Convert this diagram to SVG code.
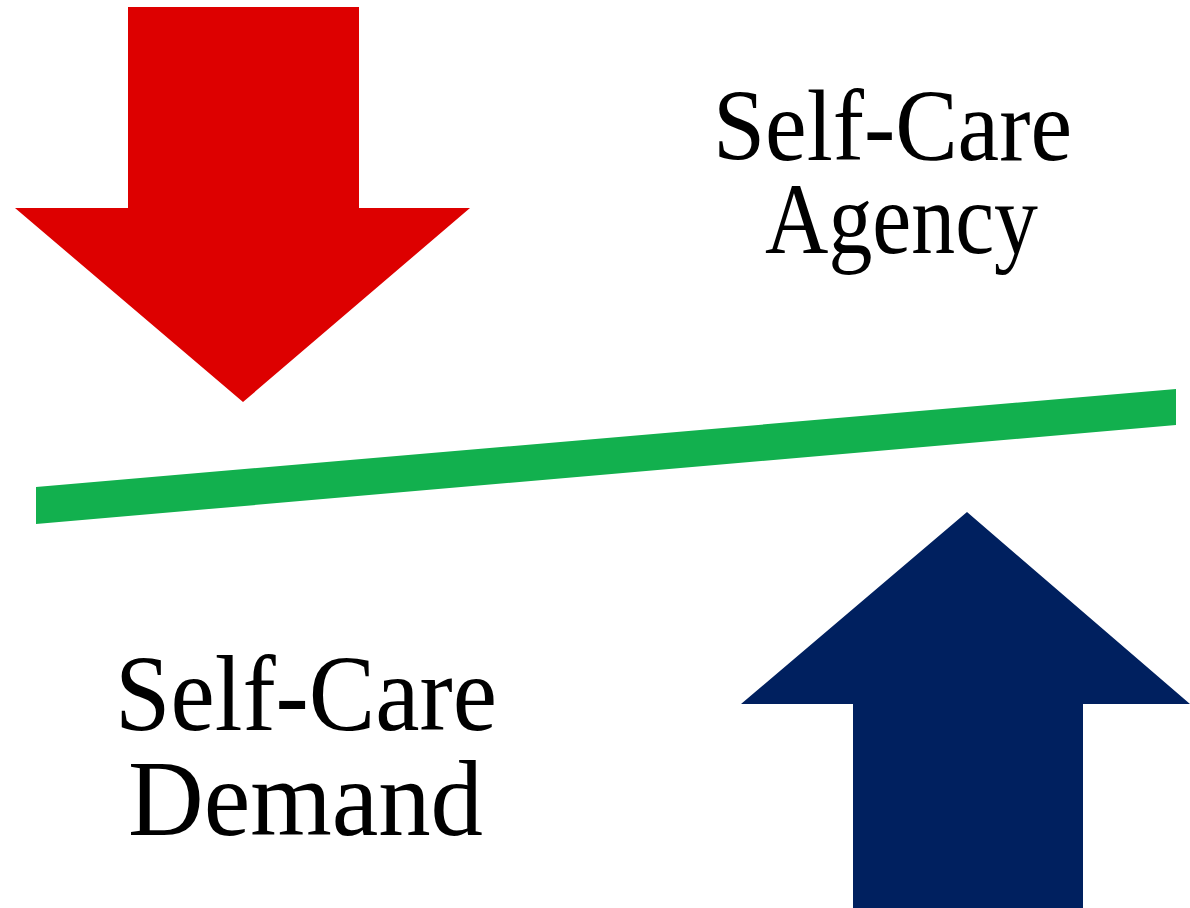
<svg xmlns="http://www.w3.org/2000/svg" width="1190" height="908" viewBox="0 0 1190 908">
<style>
.lbl{font-family:"Liberation Serif","DejaVu Serif",serif;fill:#000;}
</style>
<rect width="1190" height="908" fill="#fff"/>
<g id="demand-arrow">
<polygon points="128,7 359,7 359,208 470,208 243,402 15,208 128,208" fill="#dd0000"/>
</g>
<g id="agency-arrow">
<polygon points="967,512 1190,704 1083,704 1083,908 853,908 853,704 741,704" fill="#00205f"/>
</g>
<g id="connectors">
<polygon points="36,487 1176,389 1176,425 36,524" fill="#12b04e"/>
</g>
<g id="agency-label">
<text class="lbl" x="713" y="160" font-size="102" textLength="359" lengthAdjust="spacingAndGlyphs">Self-Care</text>
<text class="lbl" x="765" y="253" font-size="102" textLength="273" lengthAdjust="spacingAndGlyphs">Agency</text>
</g>
<g id="demand-label">
<text class="lbl" x="115" y="730" font-size="108" textLength="382" lengthAdjust="spacingAndGlyphs">Self-Care</text>
<text class="lbl" x="128" y="835" font-size="108" textLength="355" lengthAdjust="spacingAndGlyphs">Demand</text>
</g>
</svg>
